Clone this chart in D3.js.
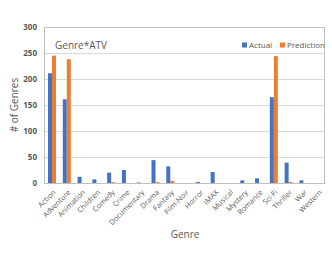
<!DOCTYPE html>
<html>
<head>
<meta charset="utf-8">
<script src="https://cdn.jsdelivr.net/npm/d3@7"></script>
<style>
	body { margin: 0; background: #fff; }
	text { font-family: "Open Sans", "Noto Sans", sans-serif; }
</style>
</head>
<body>
<div id="chart"></div>
<script>

const genres = ['Action', 'Adventure', 'Animation', 'Children', 'Comedy', 'Crime', 'Documentary',
	'Drama', 'Fantasy', 'Film-Noir', 'Horror', 'IMAX', 'Musical', 'Mystery', 'Romance',
	'Sci-Fi', 'Thriller', 'War', 'Western'];
const actual = [211, 161, 12, 7, 20, 25, 1, 44, 32, 0, 2, 21, 0, 5, 9, 165, 39, 5, 0];
const prediction = [245, 238, 0, 0, 1.5, 0, 0, 1.5, 4, 0, 0, 0, 0, 0, 0, 244, 2, 0, 0];
const seriesNames = ['Actual', 'Prediction'];
const yTicks = [0, 50, 100, 150, 200, 250, 300];

const colors = ['#4472C4', '#ED7D31'];
const width = 332, height = 267;
const margin = { top: 27, right: 7, bottom: 84, left: 44 };

const svg = d3.select('#chart')
	.append('svg')
		.attr('width', width)
		.attr('height', height);

const x = d3.scaleBand()
	.domain(genres)
	.range([margin.left, width - margin.right]);

const xInner = d3.scaleBand()
	.domain(seriesNames)
	.range([x.bandwidth() / 2 - 3.4, x.bandwidth() / 2 + 4.6]);

const y = d3.scaleLinear()
	.domain([0, 300])
	.range([height - margin.bottom, margin.top]);

// grid lines
svg.append('g')
	.selectAll('line')
	.data(yTicks)
	.join('line')
		.attr('x1', margin.left)
		.attr('x2', width - margin.right)
		.attr('y1', d => Math.round(y(d)) + 0.5)
		.attr('y2', d => Math.round(y(d)) + 0.5)
		.attr('stroke', '#d9d9d9')
		.attr('stroke-width', 1);

// plot border
svg.append('rect')
	.attr('x', margin.left + 0.5)
	.attr('y', margin.top + 0.5)
	.attr('width', width - margin.left - margin.right - 1)
	.attr('height', height - margin.top - margin.bottom)
	.attr('fill', 'none')
	.attr('stroke', '#bfbfbf');

// y axis
const yAxis = d3.axisLeft(y)
	.tickValues(yTicks)
	.tickSize(0)
	.tickPadding(7);

svg.append('g')
	.attr('transform', `translate(${margin.left}, 0)`)
	.call(yAxis)
	.call(g => g.select('.domain').remove())
	.selectAll('text')
		.attr('font-size', 8)
		.attr('font-weight', 'bold')
		.attr('fill', '#595959');

// bars
const groups = svg.append('g')
	.selectAll('g')
	.data(genres)
	.join('g')
		.attr('transform', d => `translate(${x(d)}, 0)`);

groups.selectAll('rect')
	.data((d, i) => [
		{ key: 'Actual', value: actual[i], c: colors[0] },
		{ key: 'Prediction', value: prediction[i], c: colors[1] }
	])
	.join('rect')
		.attr('x', d => xInner(d.key))
		.attr('width', 4)
		.attr('y', d => y(d.value))
		.attr('height', d => y(0) - y(d.value))
		.attr('fill', d => d.c);

// x axis
const xAxis = d3.axisBottom(x)
	.tickSize(0);

svg.append('g')
	.attr('transform', `translate(0, ${height - margin.bottom})`)
	.call(xAxis)
	.call(g => g.select('.domain').attr('stroke', '#bfbfbf'))
	.selectAll('text')
		.attr('font-size', 7.3)
		.attr('fill', '#595959')
		.attr('text-anchor', 'end')
		.attr('x', 0)
		.attr('y', 0)
		.attr('dy', '0.35em')
		.attr('transform', 'translate(3, 8) rotate(-45)');

// title
svg.append('text')
	.attr('x', 55)
	.attr('y', 49)
	.attr('font-size', 10)
	.attr('fill', '#595959')
	.text('Genre*ATV');

// legend
const legend = svg.append('g')
	.selectAll('g')
	.data(seriesNames)
	.join('g')
		.attr('transform', (d, i) => `translate(${[242, 280][i]}, 45)`);

legend.append('rect')
	.attr('x', 0)
	.attr('y', -2.5)
	.attr('width', 5)
	.attr('height', 5)
	.attr('fill', (d, i) => colors[i]);

legend.append('text')
	.attr('x', 7)
	.attr('y', 3)
	.attr('font-size', 8)
	.attr('fill', '#595959')
	.text(d => d);

// axis titles
svg.append('text')
	.attr('transform', `translate(18, ${(margin.top + height - margin.bottom) / 2}) rotate(-90)`)
	.attr('text-anchor', 'middle')
	.attr('font-size', 10)
	.attr('fill', '#595959')
	.text('# of Genres');

svg.append('text')
	.attr('x', 185)
	.attr('y', 238)
	.attr('text-anchor', 'middle')
	.attr('font-size', 10)
	.attr('fill', '#595959')
	.text('Genre');

</script>
</body>
</html>
